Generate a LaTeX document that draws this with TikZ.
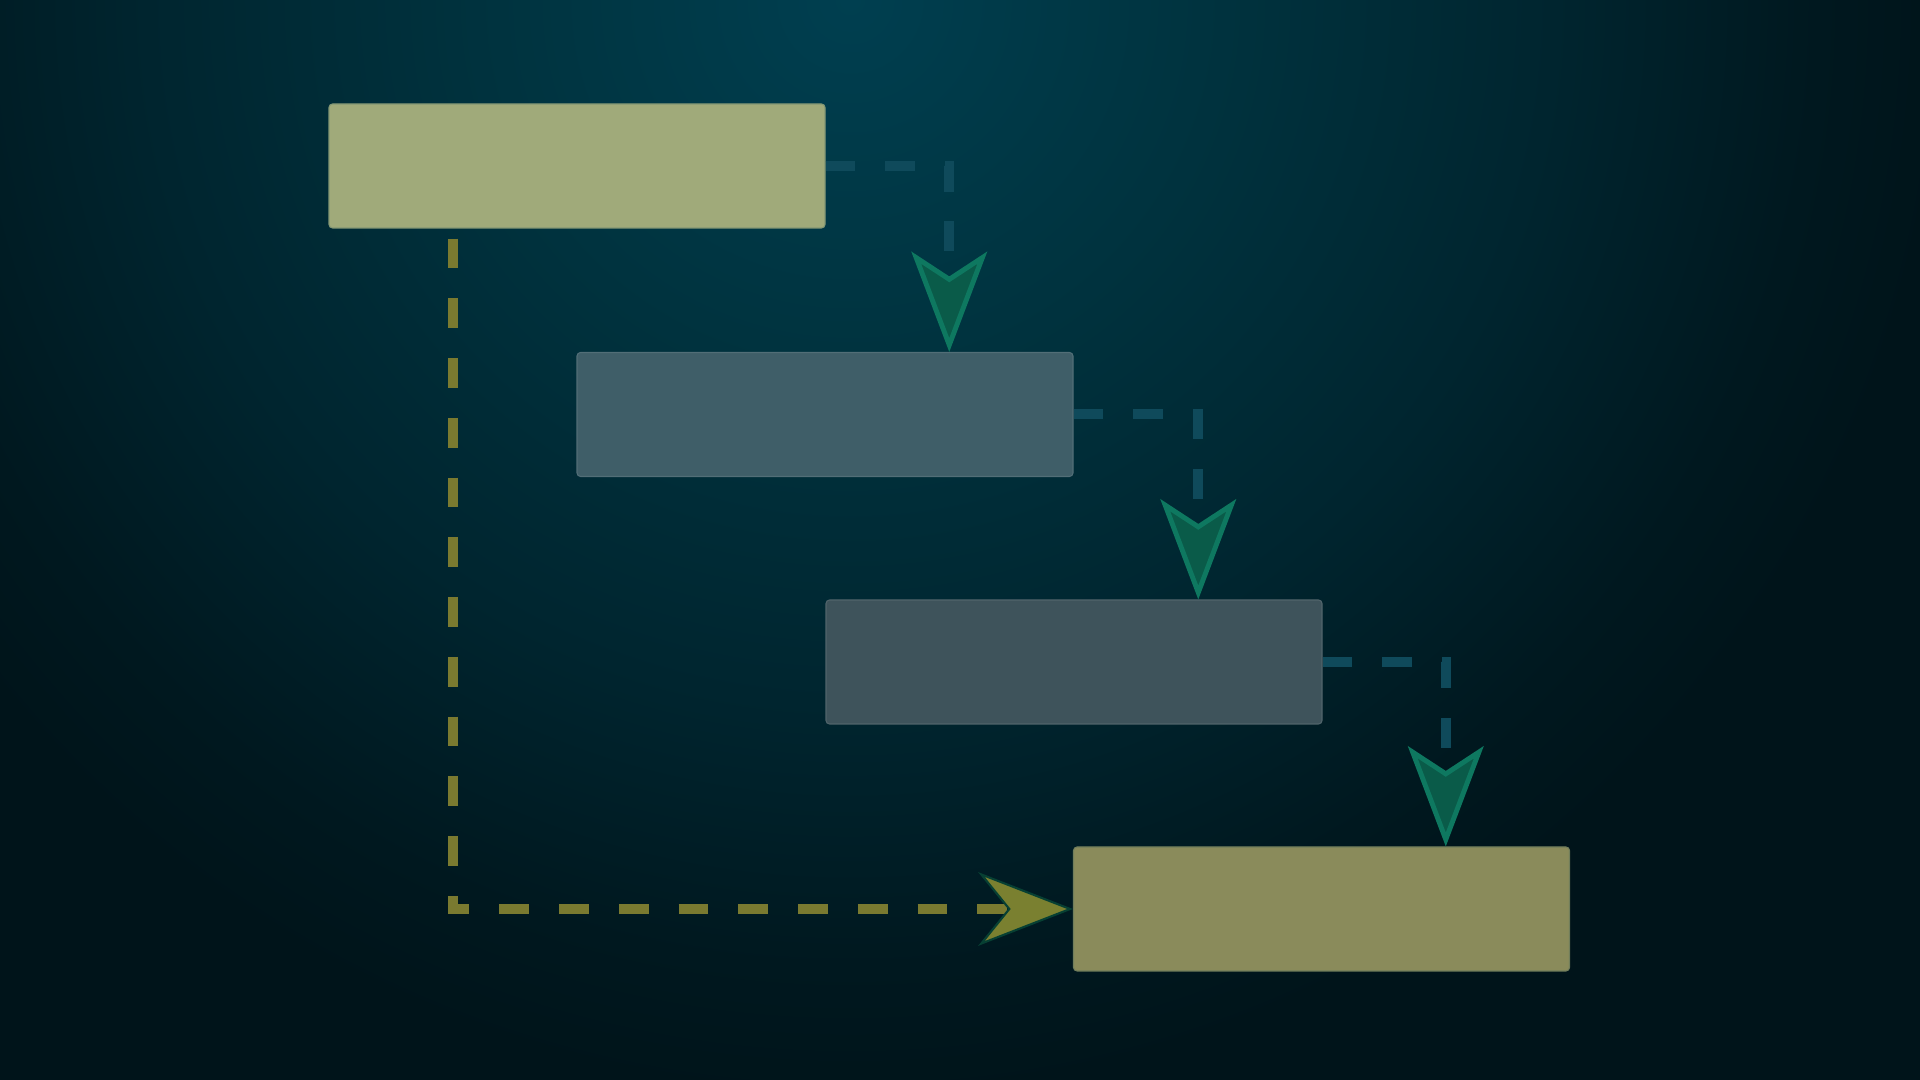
\documentclass[tikz,border=0pt]{standalone}
\usepackage{tikz}
\usetikzlibrary{arrows.meta,calc,positioning}
\definecolor{bgtop}{HTML}{003F50}
\definecolor{bgup}{HTML}{00333F}
\definecolor{bgmid}{HTML}{00252F}
\definecolor{bglow}{HTML}{00181F}
\definecolor{bgbot}{HTML}{00141A}
\definecolor{paleolive}{HTML}{A0AA7A}
\definecolor{darkolive}{HTML}{8A8B5B}
\definecolor{slateone}{HTML}{3F5E68}
\definecolor{slatetwo}{HTML}{3E535B}
\definecolor{linkblue}{HTML}{0F4A5B}
\definecolor{linkyellow}{HTML}{7A7A30}
\definecolor{tipfill}{HTML}{0A5B49}
\definecolor{tipline}{HTML}{0E7860}
\definecolor{tipyellow}{HTML}{7A8030}
\pgfdeclareradialshading{bgglow}{\pgfpoint{0bp}{0bp}}{%
  color(0bp)=(bgtop); color(8bp)=(bgup); color(16bp)=(bgmid);%
  color(22bp)=(bglow); color(25bp)=(bgbot); color(50bp)=(bgbot)}
\tikzset{%
  taskbox/.style  = {shape=rectangle, rounded corners=1pt,%
                     line width=0.3pt,%
                     minimum width=4.96cm, minimum height=1.24cm, inner sep=0pt},%
  first/.style    = {taskbox, fill=paleolive, draw=paleolive!80!linkblue},%
  middle/.style   = {taskbox, fill=slateone, draw=slateone!90!white},%
  lower/.style    = {taskbox, fill=slatetwo, draw=slatetwo!90!white},%
  last/.style     = {taskbox, fill=darkolive, draw=darkolive!80!linkblue},%
  link/.style     = {line width=2.85pt, dash pattern=on 8.5pt off 8.5pt,%
                     -{Stealth[length=28.5pt, width=21.5pt, inset=7pt,%
                       fill=tipfill, color=tipline, line width=1.4pt]}},%
  bluelink/.style = {link, draw=linkblue},%
  skiplink/.style = {line width=2.85pt, draw=linkyellow, dash pattern=on 8.5pt off 8.5pt,%
                     dash phase=14.15pt,%
                     -{Stealth[length=27pt, width=21pt, inset=8.5pt,%
                       fill=tipyellow, color=tipfill!70!black, line width=0.6pt]}}%
}
\begin{document}
\begin{tikzpicture}
  \useasboundingbox (0,0) rectangle (19.2,10.8);
  \fill[bgbot] (0,0) rectangle (19.2,10.8);
  \begin{scope}
    \clip (0,0) rectangle (19.2,10.8);
    \shade[shading=bgglow] (8.5,10.8) circle (11);
  \end{scope}
  % the four bars
  \node[first]  (bar1) at (5.77,9.14)   {};
  \node[middle] (bar2) at (8.25,6.655)  {};
  \node[lower]  (bar3) at (10.74,4.18)  {};
  \node[last]   (bar4) at (13.215,1.71) {};
  % finish to start links
  \draw[bluelink] (bar1.east) -| ($(bar2.north west)!.75!(bar2.north east)$);
  \draw[bluelink] (bar2.east) -| ($(bar3.north west)!.75!(bar3.north east)$);
  \draw[bluelink] (bar3.east) -| ($(bar4.north west)!.75!(bar4.north east)$);
  % long link from the first bar to the last one
  \draw[skiplink] ($(bar1.south west)!.25!(bar1.south east)$) |- (bar4.west);
\end{tikzpicture}
\end{document}
